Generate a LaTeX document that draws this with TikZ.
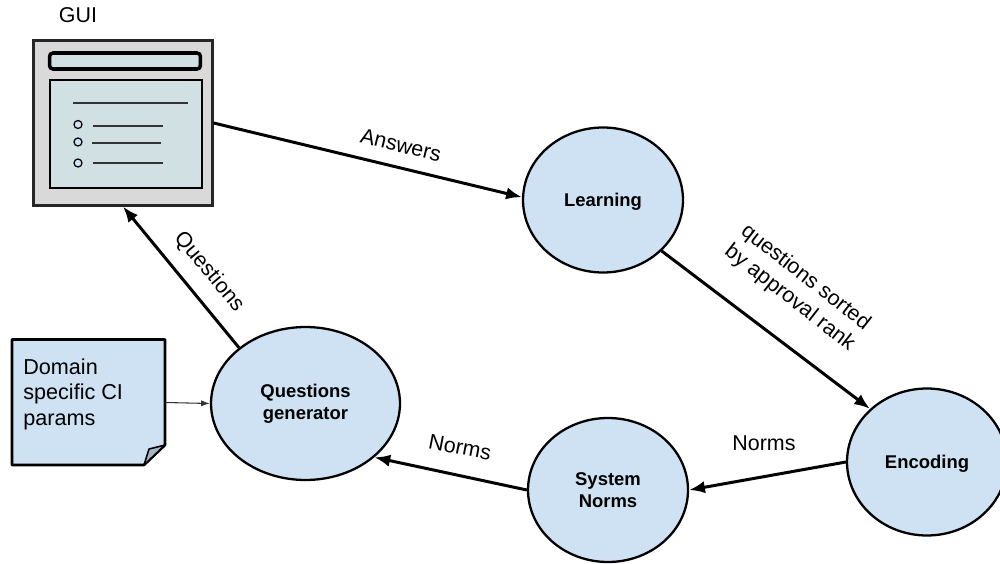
\documentclass[tikz,border=0pt]{standalone}
\usepackage{fontspec}
\setmainfont{Liberation Sans}
\usetikzlibrary{arrows.meta,shapes.geometric}
\definecolor{nodeblue}{HTML}{CFE2F3}
\definecolor{panelblue}{HTML}{D0E0E3}
\definecolor{guigray}{HTML}{D9D9D9}
\definecolor{foldblue}{HTML}{A6B5C4}
\begin{document}
\begin{tikzpicture}[x=0.02cm,y=-0.02cm]
	\tikzstyle{stage}=[draw,ellipse,fill=nodeblue,line width=1.3pt,minimum width=3.18cm,minimum height=2.88cm,inner sep=0pt,align=center,font=\fontsize{10.5}{12.6}\selectfont\bfseries]
	\tikzstyle{conn}=[line width=1.7pt,-{Latex[length=9pt,width=7pt]}]
	\tikzstyle{label}=[font=\fontsize{12.2}{14.7}\selectfont,align=center]
	\tikzstyle{guiline}=[line width=0.8pt,black!80]
	\tikzstyle{bullet}=[draw,circle,fill=nodeblue,line width=0.7pt,minimum size=0.16cm,inner sep=0pt]
	\useasboundingbox (0,0) rectangle (1000,564);
	\node[label] (guilabel) at (78,15) {GUI};
	\node[draw=black!85,fill=guigray,line width=1.2pt,minimum width=3.58cm,minimum height=3.3cm,inner sep=0pt] (gui) at (123,123) {};
	\node[draw,fill=panelblue,rounded corners=2pt,line width=2pt,minimum width=3.02cm,minimum height=0.32cm,inner sep=0pt] (guibar) at (125,61) {};
	\node[draw,fill=panelblue,line width=1.5pt,minimum width=3.04cm,minimum height=2.16cm,inner sep=0pt] (guipanel) at (126,134) {};
	\coordinate (t0a) at (73,103); \coordinate (t0b) at (188,103);
	\draw[guiline] (t0a) -- (t0b);
	\node[bullet] (b1) at (78,124.5) {};
	\node[bullet] (b2) at (78,142) {};
	\node[bullet] (b3) at (78,163) {};
	\coordinate (t1a) at (93,126); \coordinate (t1b) at (163,126);
	\coordinate (t2a) at (92,143); \coordinate (t2b) at (161,143);
	\coordinate (t3a) at (93,163); \coordinate (t3b) at (163,163);
	\draw[guiline] (t1a) -- (t1b);
	\draw[guiline] (t2a) -- (t2b);
	\draw[guiline] (t3a) -- (t3b);
	% note with folded corner
	\draw[fill=nodeblue,line width=1.5pt,line join=round] (12,339.5) -- (165,339.5) -- (165,445) -- (144,465) -- (12,465) -- cycle;
	\draw[fill=foldblue,line width=0.9pt,line join=round] (144,465) -- (149,449) -- (165,445) -- cycle;
	\node[inner sep=0pt,minimum width=3.06cm,minimum height=2.5cm] (doc) at (88.5,402.5) {};
	\node[label,anchor=north west,align=left,inner sep=0pt,font=\fontsize{12.3}{14.7}\selectfont] (doctext) at (23,358) {Domain\\specific CI\\params};
	\node[stage,minimum width=3.2cm,minimum height=2.9cm,text depth=0pt] (learning) at (603,200) {Learning};
	\node[stage,minimum width=3.78cm,minimum height=3.06cm] (qgen) at (305.5,403.5) {Questions\\generator};
	\node[stage,minimum width=3.2cm,minimum height=2.94cm,text depth=0pt] (encoding) at (927,462) {Encoding};
	\node[stage,minimum width=3.2cm] (sysnorms) at (608,490) {System\\Norms};
	\draw[conn] (gui.east) -- (learning.178);
	\draw[conn] (learning.-41) -- (encoding.137);
	\draw[conn] (encoding.west) -- (sysnorms.east);
	\draw[conn] (sysnorms.west) -- (qgen.-38);
	\draw[conn] (qgen.140) -- (gui.south);
	\draw[line width=0.6pt,-{Latex[length=5pt,width=3.5pt]},black!80] (doc.east) -- (qgen.west);
	\node[label,rotate=-14] (answers) at (401,145) {Answers};
	\node[label,rotate=-38] (sorted) at (797.5,288) {questions sorted\\by approval rank};
	\node[label,rotate=-50] (questions) at (209,272) {Questions};
	\node[label,rotate=-11] (norms1) at (460,447) {Norms};
	\node[label] (norms2) at (764,443) {Norms};
\end{tikzpicture}
\end{document}
